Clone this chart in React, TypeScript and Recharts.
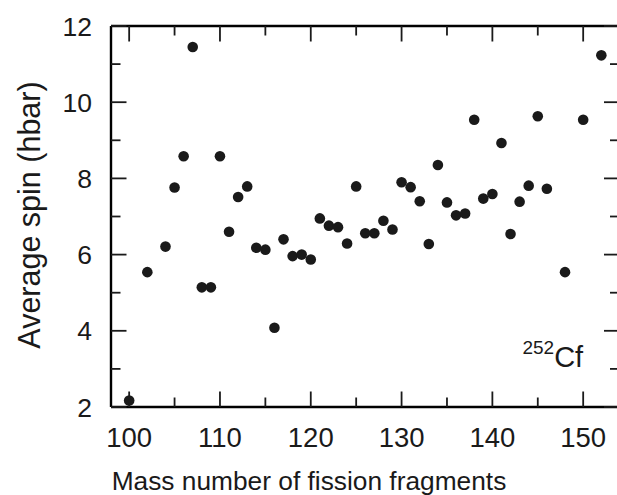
import React from "react";
import { ScatterChart, Scatter, XAxis, YAxis, ReferenceDot } from "recharts";

const massNumbers = [100, 102, 104, 105, 106, 107, 108, 109, 110, 111, 112, 113, 114, 115, 116, 117, 118, 119, 120, 121, 122, 123, 124, 125, 126, 127, 128, 129, 130, 131, 132, 133, 134, 135, 136, 137, 138, 139, 140, 141, 142, 143, 144, 145, 146, 148, 150, 152];
const avgSpin = [2.17, 5.54, 6.21, 7.76, 8.58, 11.45, 5.14, 5.14, 8.58, 6.6, 7.51, 7.79, 6.18, 6.13, 4.08, 6.4, 5.96, 6.0, 5.87, 6.95, 6.76, 6.72, 6.29, 7.79, 6.56, 6.56, 6.89, 6.66, 7.9, 7.77, 7.4, 6.28, 8.35, 7.37, 7.03, 7.08, 9.54, 7.47, 7.59, 8.93, 6.54, 7.39, 7.81, 9.63, 7.73, 5.54, 9.54, 11.23];

const xDomain = [98, 154];
const yDomain = [2, 12];
const xTicks = [100, 105, 110, 115, 120, 125, 130, 135, 140, 145, 150];
const xLabelTicks = [100, 110, 120, 130, 140, 150];
const yTicks = [2, 3, 4, 5, 6, 7, 8, 9, 10, 11, 12];
const yLabelTicks = [2, 4, 6, 8, 10, 12];

const xTitle = "Mass number of fission fragments";
const yTitle = "Average spin (hbar)";

const data = massNumbers.map((m, i) => ({ x: m, y: avgSpin[i] }));

const INK = "#1a1a1a";
const FONT = "'Liberation Sans', Arial, Helvetica, sans-serif";
const MAJOR = 15.5;
const MINOR = 9.5;
const TICK_W = 1.8;
const FRAME = { stroke: "#000", strokeWidth: 2.4 };

const BottomTick = (p: any) => {
  const v = p.payload.value;
  const major = xLabelTicks.includes(v);
  return (
    <g>
      <line x1={p.x} x2={p.x} y1={p.y} y2={p.y - (major ? MAJOR : MINOR)} stroke={INK} strokeWidth={TICK_W} />
      {major && (
        <text x={p.x} y={p.y + 40} textAnchor="middle" fontSize={27.5} fill={INK} fontFamily={FONT}>
          {v}
        </text>
      )}
    </g>
  );
};

const TopTick = (p: any) => {
  const v = p.payload.value;
  const major = xLabelTicks.includes(v);
  return <line x1={p.x} x2={p.x} y1={p.y} y2={p.y + (major ? MAJOR : MINOR)} stroke={INK} strokeWidth={TICK_W} />;
};

const LeftTick = (p: any) => {
  const v = p.payload.value;
  const major = yLabelTicks.includes(v);
  return (
    <g>
      <line x1={p.x} x2={p.x + (major ? MAJOR : MINOR)} y1={p.y} y2={p.y} stroke={INK} strokeWidth={TICK_W} />
      {major && (
        <text x={p.x - 19} y={p.y + 9.5} textAnchor="end" fontSize={26.5} fill={INK} fontFamily={FONT}>
          {v}
        </text>
      )}
    </g>
  );
};

const RightTick = (p: any) => {
  const v = p.payload.value;
  const major = yLabelTicks.includes(v);
  return <line x1={p.x} x2={p.x - (major ? MAJOR : MINOR)} y1={p.y} y2={p.y} stroke={INK} strokeWidth={TICK_W} />;
};

const Dot = (p: any) => <circle cx={p.cx} cy={p.cy} r={5.3} fill="#1a1a1a" />;
const NoDot = () => <g />;

const CfLabel = (p: any) => {
  const vb = p.viewBox || {};
  const x = vb.cx ?? vb.x;
  const y = vb.cy ?? vb.y;
  return (
    <text x={x} y={y} textAnchor="end" fill={INK} fontFamily={FONT}>
      <tspan fontSize={19} dy={-13}>252</tspan>
      <tspan fontSize={29} dy={13}>Cf</tspan>
    </text>
  );
};

export default function App() {
  return (
    <div style={{ position: "absolute", left: 0, top: 0, width: 617, height: 495, background: "#fff" }}>
      <ScatterChart width={617} height={495} margin={{ top: 25, left: 0, right: -3.5, bottom: 0 }}>
        <XAxis xAxisId="b" dataKey="x" type="number" domain={xDomain} ticks={xTicks} height={88}
          tickSize={0} tickMargin={0} tickLine={false} axisLine={FRAME} tick={<BottomTick />} />
        <XAxis xAxisId="t" orientation="top" dataKey="x" type="number" domain={xDomain} ticks={xTicks} height={1}
          tickSize={0} tickMargin={0} tickLine={false} axisLine={FRAME} tick={<TopTick />} />
        <YAxis yAxisId="l" dataKey="y" type="number" domain={yDomain} ticks={yTicks} width={111}
          tickSize={0} tickMargin={0} tickLine={false} axisLine={FRAME} tick={<LeftTick />} />
        <YAxis yAxisId="r" orientation="right" dataKey="y" type="number" domain={yDomain} ticks={yTicks} width={1}
          tickSize={0} tickMargin={0} tickLine={false} axisLine={FRAME} tick={<RightTick />} />
        <Scatter xAxisId="b" yAxisId="l" data={data} shape={<Dot />} isAnimationActive={false} />
        <Scatter xAxisId="t" yAxisId="r" data={data} shape={<NoDot />} isAnimationActive={false} />
        <ReferenceDot xAxisId="b" yAxisId="l" x={150} y={3.05} r={0} fill="none" stroke="none" label={<CfLabel />} />
      </ScatterChart>
      <svg width={617} height={495} style={{ position: "absolute", left: 0, top: 0, pointerEvents: "none" }}>
        <text x={309} y={490} textAnchor="middle" fontSize={26.3} fill={INK} fontFamily={FONT}>
          {xTitle}
        </text>
        <text x={40} y={215} textAnchor="middle" fontSize={30.5} fill={INK} fontFamily={FONT} transform="rotate(-90 40 215)">
          {yTitle}
        </text>
      </svg>
    </div>
  );
}
